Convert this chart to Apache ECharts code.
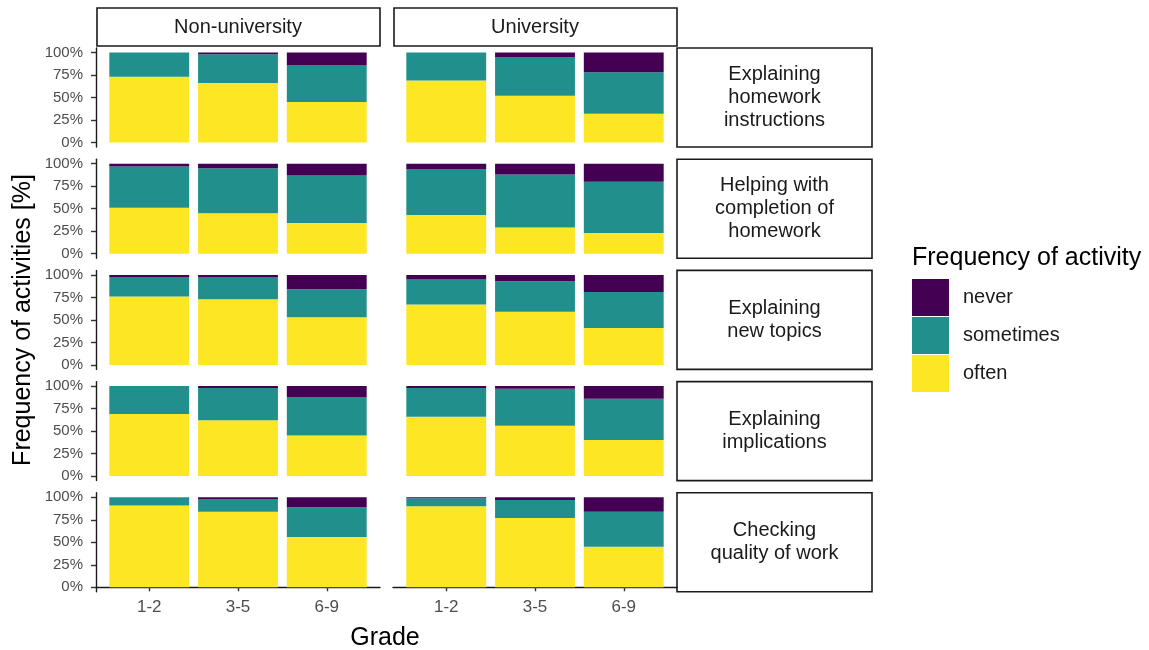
<!DOCTYPE html>
<html>
<head>
<meta charset="utf-8">
<script src="https://cdn.jsdelivr.net/npm/echarts@6/dist/echarts.min.js"></script>
<style>
  html, body { margin: 0; padding: 0; background: #fff; }
  #chart { width: 1149px; height: 650px; }
</style>
</head>
<body>
<div id="chart"></div>
<script>
// data (percent of answers per grade band)
const grades = ['1-2', '3-5', '6-9'];
const groups = ['Non-university', 'University'];
const activities = [
  'Explaining\nhomework\ninstructions',
  'Helping with\ncompletion of\nhomework',
  'Explaining\nnew topics',
  'Explaining\nimplications',
  'Checking\nquality of work'
];
const yTicks = [0, 25, 50, 75, 100];

const oftenNonUni     = [[73, 66, 45], [51, 45, 34], [76, 73, 53], [69, 62, 45], [91, 84, 56]];
const sometimesNonUni = [[27, 32, 41], [46, 50, 53], [21, 24, 31], [31, 36, 43], [9, 14, 33]];
const neverNonUni     = [[0, 2, 14], [3, 5, 13], [3, 3, 16], [0, 2, 12], [0, 2, 11]];

const oftenUni     = [[69, 52, 32], [43, 29, 23], [67, 59, 41], [66, 56, 40], [90, 77, 45]];
const sometimesUni = [[31, 43, 46], [51, 59, 57], [28, 34, 40], [32, 41, 46], [9, 20, 39]];
const neverUni     = [[0, 5, 22], [6, 12, 20], [5, 7, 19], [2, 3, 14], [1, 3, 16]];

const colors = { never: '#440154', sometimes: '#21908C', often: '#FDE725' };
const font = '"Liberation Sans", Arial, sans-serif';

// facet layout (ggplot-like: discrete axis padded by 0.6 units, y padded 5%)
const panelLeft = [96, 393];
const panelWidth = 284;
const panelTop = 48;
const rowStep = 111.2;
const panelHeight = 99;
const unit = panelWidth / 3.2;

const chart = echarts.init(document.getElementById('chart'));

const grid = [], xAxis = [], yAxis = [], series = [];
const graphic = [];

const byGroup = [
  { often: oftenNonUni, sometimes: sometimesNonUni, never: neverNonUni },
  { often: oftenUni, sometimes: sometimesUni, never: neverUni }
];

const axisLine = { show: true, lineStyle: { color: '#1a1a1a', width: 1.4 } };

activities.forEach(function (act, r) {
  const top = panelTop + r * rowStep;
  const bottomRow = r === activities.length - 1;
  groups.forEach(function (g, c) {
    // grid that only carries the panel's axes
    const a = grid.length;
    grid.push({ left: panelLeft[c], top: top, width: panelWidth, height: panelHeight, outerBoundsMode: 'none', containLabel: false });
    xAxis.push({
      type: 'value', gridIndex: a, min: 0.4, max: 3.6, show: bottomRow,
      splitLine: { show: false }, axisLine: axisLine,
      axisTick: { show: true, length: 4, customValues: [1, 2, 3], lineStyle: { color: '#333', width: 1.4 } },
      axisLabel: {
        customValues: [1, 2, 3], margin: 7,
        color: '#4d4d4d', fontSize: 17, fontFamily: font,
        formatter: function (v) { return grades[Math.round(v) - 1]; }
      }
    });
    yAxis.push({
      type: 'value', gridIndex: a, min: -5, max: 105, show: c === 0,
      splitLine: { show: false }, axisLine: axisLine,
      axisTick: { show: true, length: 5, customValues: yTicks, lineStyle: { color: '#333', width: 1.4 } },
      axisLabel: {
        customValues: yTicks, margin: 13,
        color: '#4d4d4d', fontSize: 15, fontFamily: font,
        formatter: function (v) { return v + '%'; }
      }
    });

    // grid holding the stacked bars on a category axis
    const b = grid.length;
    grid.push({ left: panelLeft[c] + 0.1 * unit, top: top, width: 3 * unit, height: panelHeight, outerBoundsMode: 'none', containLabel: false });
    xAxis.push({ type: 'category', gridIndex: b, data: grades, show: false });
    yAxis.push({ type: 'value', gridIndex: b, min: -5, max: 105, show: false, splitLine: { show: false } });
    ['often', 'sometimes', 'never'].forEach(function (lvl) {
      series.push({
        name: lvl, type: 'bar', stack: 'p' + b,
        xAxisIndex: b, yAxisIndex: b,
        barWidth: '90%',
        itemStyle: { color: colors[lvl] },
        data: byGroup[c][lvl][r]
      });
    });
  });

  // row strip on the right
  graphic.push({
    type: 'rect', shape: { x: 677, y: top, width: 195, height: panelHeight },
    style: { fill: '#fff', stroke: '#1a1a1a', lineWidth: 1.6 }
  });
  graphic.push({
    type: 'text', x: 774.5, y: top + panelHeight / 2,
    style: { text: act, font: '20px ' + font, fill: '#1a1a1a', align: 'center', verticalAlign: 'middle', lineHeight: 23 }
  });
});

// column strips
groups.forEach(function (g, c) {
  graphic.push({
    type: 'rect', shape: { x: panelLeft[c] + 1, y: 8, width: panelWidth - 1, height: 38 },
    style: { fill: '#fff', stroke: '#1a1a1a', lineWidth: 1.6 }
  });
  graphic.push({
    type: 'text', x: panelLeft[c] + panelWidth / 2, y: 27,
    style: { text: g, font: '20px ' + font, fill: '#1a1a1a', align: 'center', verticalAlign: 'middle' }
  });
});

// axis titles
graphic.push({
  type: 'text', x: 23, y: 320, rotation: Math.PI / 2,
  style: { text: 'Frequency of activities [%]', font: '25px ' + font, fill: '#000', align: 'center', verticalAlign: 'middle' }
});
graphic.push({
  type: 'text', x: 385, y: 638,
  style: { text: 'Grade', font: '25px ' + font, fill: '#000', align: 'center', verticalAlign: 'middle' }
});

chart.setOption({
  animation: false,
  backgroundColor: '#fff',
  title: {
    text: 'Frequency of activity', left: 907, top: 241,
    textStyle: { fontSize: 25, fontWeight: 'normal', color: '#000', fontFamily: font }
  },
  legend: {
    data: ['never', 'sometimes', 'often'],
    orient: 'vertical', left: 907, top: 274,
    itemWidth: 37, itemHeight: 37, itemGap: 1,
    icon: 'rect', selectedMode: false,
    textStyle: { fontSize: 20, color: '#1a1a1a', fontFamily: font, padding: [0, 0, 0, 9] }
  },
  grid: grid,
  xAxis: xAxis,
  yAxis: yAxis,
  series: series,
  graphic: graphic
});
</script>
</body>
</html>
